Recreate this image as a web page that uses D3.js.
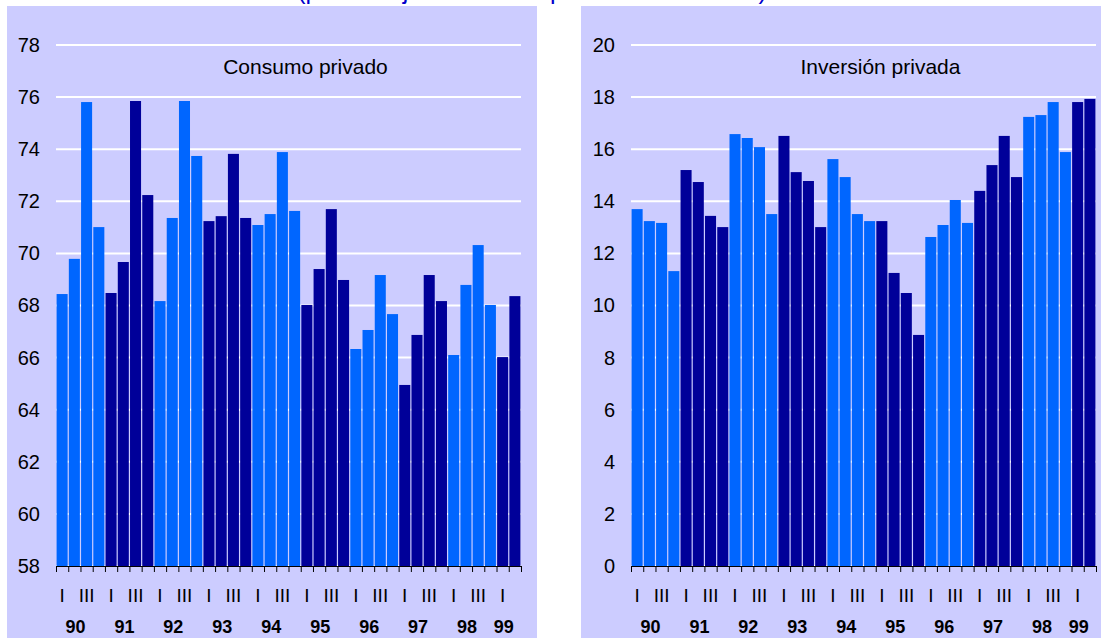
<!DOCTYPE html>
<html>
<head>
<meta charset="utf-8">
<script src="https://cdn.jsdelivr.net/npm/d3@7"></script>
<style>
  html, body { margin: 0; padding: 0; background: #ffffff; }
  svg { display: block; font-family: Arial, "Liberation Sans", Helvetica, sans-serif; }
</style>
</head>
<body>
<svg id="chart" width="1101" height="638"></svg>
<script>
// Quarterly series, 1990 Q1 – 1999 Q2 (share of GDP, constant prices)
const years = ["90", "91", "92", "93", "94", "95", "96", "97", "98", "99"];
const quarterNames = ["I", "II", "III", "IV"];

const consumoPrivado = [
  68.44, 69.79, 75.81, 71.01,
  68.48, 69.67, 75.85, 72.24,
  68.17, 71.36, 75.85, 73.74,
  71.24, 71.43, 73.82, 71.36,
  71.09, 71.51, 73.89, 71.63,
  68.02, 69.40, 71.70, 68.98,
  66.33, 67.06, 69.17, 67.67,
  64.95, 66.87, 69.17, 68.17,
  66.10, 68.79, 70.32, 68.02,
  66.02, 68.36
];

const inversionPrivada = [
  13.70, 13.24, 13.17, 11.32,
  15.20, 14.74, 13.44, 13.01,
  16.58, 16.43, 16.08, 13.51,
  16.51, 15.12, 14.78, 13.01,
  15.62, 14.93, 13.51, 13.24,
  13.24, 11.25, 10.48, 8.87,
  12.63, 13.09, 14.05, 13.17,
  14.40, 15.39, 16.51, 14.93,
  17.24, 17.31, 17.81, 15.89,
  17.81, 17.93
];

const consumoTicks = [58, 60, 62, 64, 66, 68, 70, 72, 74, 76, 78];
const inversionTicks = [0, 2, 4, 6, 8, 10, 12, 14, 16, 18, 20];

const chartTitle = "(porcentajes del PIB a precios constantes)";

const colorLight = "#0066ff";
const colorDark = "#000099";
const panelFill = "#ccccff";

const svg = d3.select("#chart");

// Page heading, running off the top edge of the sheet
svg.append("text")
  .attr("x", 532)
  .attr("y", -1)
  .attr("text-anchor", "middle")
  .attr("font-size", 25)
  .attr("fill", "#0000cc")
  .text(chartTitle);

function drawPanel(cfg) {
  const g = svg.append("g");
  const n = cfg.values.length;

  g.append("rect")
    .attr("x", cfg.left)
    .attr("y", 6)
    .attr("width", cfg.right - cfg.left)
    .attr("height", 632)
    .attr("fill", panelFill);

  const x = d3.scaleBand()
    .domain(d3.range(n))
    .range([cfg.plotL, cfg.plotR])
    .padding(0);

  const y = d3.scaleLinear()
    .domain(d3.extent(cfg.ticks))
    .range([566, 45]);

  // horizontal grid
  g.append("g")
    .selectAll("line")
    .data(cfg.ticks)
    .join("line")
    .attr("x1", cfg.plotL)
    .attr("x2", cfg.plotR)
    .attr("y1", d => y(d))
    .attr("y2", d => y(d))
    .attr("stroke", "#ffffff")
    .attr("stroke-width", 2);

  // y labels
  const yAxis = d3.axisLeft(y)
    .tickValues(cfg.ticks)
    .tickSize(0)
    .tickPadding(0)
    .tickFormat(d3.format("d"));
  const ya = g.append("g")
    .attr("transform", `translate(${cfg.plotL - 16},0)`)
    .call(yAxis);
  ya.select(".domain").remove();
  ya.selectAll("text")
    .attr("font-size", 20)
    .attr("font-family", "Arial, 'Liberation Sans', sans-serif")
    .attr("fill", "#000000");

  // bars, coloured by alternating year
  const inset = 0.6;
  g.append("g")
    .selectAll("rect")
    .data(cfg.values)
    .join("rect")
    .attr("x", (d, i) => x(i) + inset)
    .attr("width", x.bandwidth() - 2 * inset)
    .attr("y", d => y(d))
    .attr("height", d => y(cfg.ticks[0]) - y(d))
    .attr("fill", (d, i) => Math.floor(i / 4) % 2 === 0 ? colorLight : colorDark);

  // category axis line and boundary ticks
  const axisG = g.append("g");
  axisG.append("line")
    .attr("x1", cfg.plotL)
    .attr("x2", cfg.plotR)
    .attr("y1", 566.5)
    .attr("y2", 566.5)
    .attr("stroke", "#000000")
    .attr("stroke-width", 1);
  axisG.selectAll("line.tick")
    .data(d3.range(n + 1))
    .join("line")
    .attr("class", "tick")
    .attr("x1", i => (i < n ? x(i) : cfg.plotR) + 0.5)
    .attr("x2", i => (i < n ? x(i) : cfg.plotR) + 0.5)
    .attr("y1", 566)
    .attr("y2", 572)
    .attr("stroke", "#000000")
    .attr("stroke-width", 1);

  // quarter labels (I and III only)
  const quarterIdx = d3.range(n).filter(i => i % 4 === 0 || i % 4 === 2);
  axisG.selectAll("text.q")
    .data(quarterIdx)
    .join("text")
    .attr("class", "q")
    .attr("x", i => x(i) + x.bandwidth() / 2)
    .attr("y", 602)
    .attr("text-anchor", "middle")
    .attr("font-size", 19)
    .attr("fill", "#000000")
    .text(i => quarterNames[i % 4]);

  // year labels
  axisG.selectAll("text.yr")
    .data(years)
    .join("text")
    .attr("class", "yr")
    .attr("x", (d, k) => {
      const first = k * 4;
      const last = Math.min(first + 3, n - 1);
      return (x(first) + x(last) + x.bandwidth()) / 2 - 5;
    })
    .attr("y", 633)
    .attr("text-anchor", "middle")
    .attr("font-size", 18)
    .attr("font-weight", "bold")
    .attr("fill", "#000000")
    .text(d => d);

  // panel title
  g.append("text")
    .attr("x", (cfg.plotL + cfg.plotR) / 2 + 17)
    .attr("y", 74)
    .attr("text-anchor", "middle")
    .attr("font-size", 21)
    .attr("fill", "#000000")
    .text(cfg.title);
}

drawPanel({
  left: 7, right: 537, plotL: 56, plotR: 521,
  values: consumoPrivado, ticks: consumoTicks, title: "Consumo privado"
});

drawPanel({
  left: 581, right: 1101, plotL: 631, plotR: 1096,
  values: inversionPrivada, ticks: inversionTicks, title: "Inversión privada"
});
</script>
</body>
</html>
